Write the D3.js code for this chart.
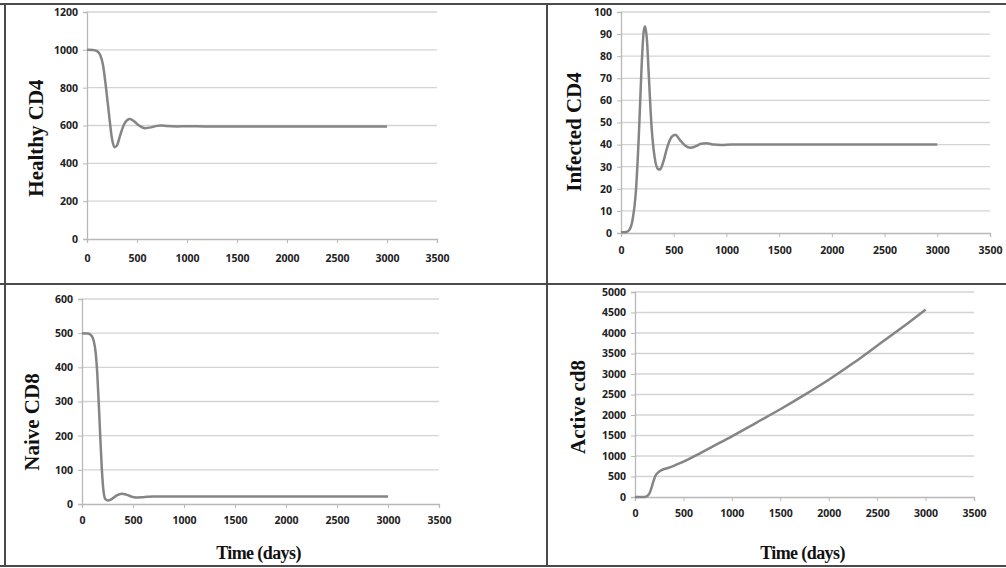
<!DOCTYPE html>
<html>
<head>
<meta charset="utf-8">
<script src="https://cdn.jsdelivr.net/npm/d3@7"></script>
<style>
  body { margin: 0; background: #fff; }
  .tick text { font-family: "Open Sans", "Liberation Sans", sans-serif; font-weight: bold; font-size: 10.5px; fill: #222; }
  .ylab, .xlab { font-family: "Liberation Serif", "DejaVu Serif", serif; font-weight: bold; fill: #111; }
</style>
</head>
<body>
<svg id="chart" width="1006" height="568"></svg>
<script>
// Time axis shared by all four panels
const xTicks = [0, 500, 1000, 1500, 2000, 2500, 3000, 3500];

// Healthy CD4
const healthyT = [0, 60, 100, 130, 160, 190, 220, 250, 275, 300, 330, 370, 400, 430, 470, 520, 580, 640, 700, 740, 800, 900, 1000, 1200, 1500, 2000, 2500, 3000];
const healthyV = [1000, 999, 993, 975, 920, 800, 660, 530, 485, 495, 545, 605, 628, 634, 622, 600, 586, 590, 598, 600, 597, 595, 596, 595, 595, 595, 595, 595];

// Infected CD4
const infectedT = [0, 50, 80, 110, 140, 170, 195, 215, 228, 245, 265, 290, 320, 350, 370, 400, 440, 480, 515, 560, 610, 660, 710, 760, 810, 880, 950, 1050, 1500, 2000, 2500, 3000];
const infectedV = [0.3, 0.5, 1.5, 6, 18, 45, 75, 91, 93.5, 88, 70, 48, 34, 29, 28.7, 32, 39, 43.5, 44.5, 42, 39.5, 38.6, 39.3, 40.4, 40.6, 40, 39.8, 40, 40, 40, 40, 40];

// Naive CD8
const naiveT = [0, 60, 90, 115, 135, 150, 165, 180, 195, 210, 230, 255, 290, 340, 390, 430, 480, 530, 600, 700, 800, 1000, 1500, 2000, 2500, 3000];
const naiveV = [500, 499, 494, 478, 440, 380, 290, 190, 100, 40, 14, 10, 14, 25, 30, 28, 22, 19, 20, 22, 22, 22, 22, 22, 22, 22];

// Active cd8
const activeT = [0, 80, 110, 130, 150, 170, 190, 210, 240, 280, 330, 400, 470, 550, 650, 800, 1000, 1250, 1500, 1750, 2000, 2250, 2500, 2750, 3000];
const activeV = [0, 2, 8, 30, 90, 220, 380, 510, 600, 660, 700, 760, 830, 920, 1040, 1230, 1480, 1810, 2140, 2490, 2860, 3260, 3690, 4120, 4570];

const panels = [
  { t: healthyT, v: healthyV, label: 'Healthy CD4', yMax: 1200, yStep: 200,
    x0: 87, x1: 437, yTop: 12, yBot: 239, ylx: 38, yly: 138, pad: 12, xlab: null },
  { t: infectedT, v: infectedV, label: 'Infected CD4', yMax: 100, yStep: 10,
    x0: 621, x1: 990, yTop: 12, yBot: 233, ylx: 576, yly: 132, pad: 10, xlab: null },
  { t: naiveT, v: naiveV, label: 'Naive CD8', yMax: 600, yStep: 100,
    x0: 82, x1: 439, yTop: 299, yBot: 504, ylx: 34, yly: 422, pad: 9, xlab: 'Time (days)' },
  { t: activeT, v: activeV, label: 'Active cd8', yMax: 5000, yStep: 500,
    x0: 635, x1: 974, yTop: 292, yBot: 497, ylx: 580, yly: 407, pad: 9, xlab: 'Time (days)' }
];

const svg = d3.select('#chart');

panels.forEach(p => {
  const x = d3.scaleLinear().domain([0, 3500]).range([p.x0, p.x1]);
  const y = d3.scaleLinear().domain([0, p.yMax]).range([p.yBot, p.yTop]);
  const yTicks = d3.range(0, p.yMax + 1, p.yStep);

  // Grid lines
  svg.append('g')
    .selectAll('line')
    .data(yTicks.slice(1))
    .enter()
    .append('line')
    .attr('x1', p.x0).attr('x2', p.x1)
    .attr('y1', d => y(d)).attr('y2', d => y(d))
    .attr('stroke', '#d4d4d4')
    .attr('stroke-width', 1.3);

  // X axis
  const gx = svg.append('g')
    .attr('transform', `translate(0,${p.yBot})`)
    .call(d3.axisBottom(x).tickValues(xTicks).tickSize(4).tickPadding(p.pad).tickFormat(d3.format('d')));
  gx.select('.domain').attr('stroke', '#b8b8b8').attr('stroke-width', 1.3);
  gx.selectAll('.tick line').attr('stroke', '#b8b8b8');

  // Y axis
  const gy = svg.append('g')
    .attr('transform', `translate(${p.x0},0)`)
    .call(d3.axisLeft(y).tickValues(yTicks).tickSize(4).tickPadding(5).tickFormat(d3.format('d')));
  gy.select('.domain').attr('stroke', '#b8b8b8').attr('stroke-width', 1.3);
  gy.selectAll('.tick line').attr('stroke', '#b8b8b8');

  // Series line
  const line = d3.line()
    .x((d, i) => x(p.t[i]))
    .y(d => y(d))
    .curve(d3.curveMonotoneX);
  svg.append('path')
    .datum(p.v)
    .attr('d', line)
    .attr('fill', 'none')
    .attr('stroke', '#858585')
    .attr('stroke-width', 2.5);

  // Y label
  svg.append('text')
    .attr('class', 'ylab')
    .attr('transform', `translate(${p.ylx},${p.yly}) rotate(-90)`)
    .attr('text-anchor', 'middle')
    .attr('dominant-baseline', 'middle')
    .style('font-size', '21px')
    .text(p.label);

  if (p.xlab) {
    svg.append('text')
      .attr('class', 'xlab')
      .attr('x', (p.x0 + p.x1) / 2 - 2)
      .attr('y', 559)
      .attr('text-anchor', 'middle')
      .style('font-size', '18px')
      .style('letter-spacing', '-0.6px')
      .text(p.xlab);
  }
});

// Frame lines between panels
const frame = [
  [0, 4, 1006, 4],
  [5, 4, 5, 567],
  [0, 566, 1006, 566],
  [0, 284, 1006, 284],
  [547, 4, 547, 567]
];
svg.append('g')
  .selectAll('line')
  .data(frame)
  .enter()
  .append('line')
  .attr('x1', d => d[0]).attr('y1', d => d[1])
  .attr('x2', d => d[2]).attr('y2', d => d[3])
  .attr('stroke', '#4a4a4a')
  .attr('stroke-width', 2);
</script>
</body>
</html>
